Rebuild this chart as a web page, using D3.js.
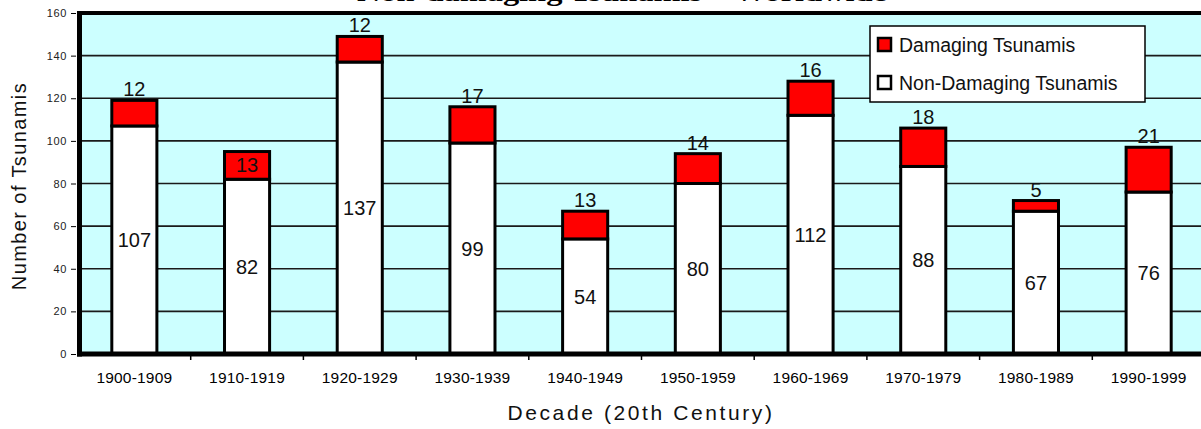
<!DOCTYPE html>
<html>
<head>
<meta charset="utf-8">
<script src="https://cdn.jsdelivr.net/npm/d3@7"></script>
<style>
  html, body { margin: 0; padding: 0; background: #fff; }
  svg { display: block; }
</style>
</head>
<body>
<script>
// ---- data ----
const categories = ["1900-1909","1910-1919","1920-1929","1930-1939","1940-1949",
                    "1950-1959","1960-1969","1970-1979","1980-1989","1990-1999"];
const nonDamaging = [107, 82, 137, 99, 54, 80, 112, 88, 67, 76];
const damaging    = [12, 13, 12, 17, 13, 14, 16, 18, 5, 21];
const yTicks = [0, 20, 40, 60, 80, 100, 120, 140, 160];
const seriesNames = ["Damaging Tsunamis", "Non-Damaging Tsunamis"];
const titleText = "Non-damaging Tsunamis \u2013 Worldwide";
const xTitle = "Decade (20th Century)";
const yTitle = "Number of Tsunamis";
// categories whose damaging label sits inside the red segment (as in the reference)
const insideLabel = new Set(["1910-1919"]);

const W = 1201, H = 429;
const svg = d3.select("body").append("svg").attr("width", W).attr("height", H);

const x = d3.scaleBand().domain(categories).range([78, 1205]).paddingInner(0.6).paddingOuter(0.3);
const y = d3.scaleLinear().domain([0, 160]).range([354, 13]);

// title (clipped at top like the reference)
svg.append("text")
  .attr("x", 357).attr("y", 1)
  .attr("textLength", 530).attr("lengthAdjust", "spacingAndGlyphs")
  .style("font-family", "'Liberation Serif', 'Times New Roman', serif")
  .style("font-weight", "bold").style("font-size", "26px")
  .text(titleText);

// plot background
svg.append("rect")
  .attr("x", x.range()[0]).attr("y", y(160))
  .attr("width", x.range()[1] - x.range()[0]).attr("height", y(0) - y(160))
  .attr("fill", "#ccffff");

// gridlines
svg.append("g").selectAll("line").data(yTicks.filter(d => d > 0 && d < 160)).join("line")
  .attr("x1", x.range()[0]).attr("x2", x.range()[1])
  .attr("y1", d => y(d)).attr("y2", d => y(d))
  .attr("stroke", "#1a1a1a").attr("stroke-width", 1.6);

// y axis
const yAxis = d3.axisLeft(y).tickValues(yTicks).tickSize(5).tickPadding(4);
const gy = svg.append("g").attr("transform", "translate(76,0)").call(yAxis);
gy.select(".domain").remove();
gy.selectAll(".tick line").attr("stroke", "#000").attr("stroke-width", 1);
gy.selectAll(".tick text")
  .style("font-family", "'Liberation Sans', Arial, sans-serif")
  .style("font-size", "11px").style("letter-spacing", "0.6px").attr("fill", "#222");

// x axis
const xAxis = d3.axisBottom(x).tickSize(0).tickPadding(18);
const gx = svg.append("g").attr("transform", `translate(0,${y(0)})`).call(xAxis);
gx.select(".domain").remove();
gx.selectAll(".tick text")
  .style("font-family", "'Liberation Sans', Arial, sans-serif")
  .style("font-size", "15.5px").style("letter-spacing", "0.2px").attr("fill", "#000");
// category boundary ticks
svg.append("g").selectAll("line").data(categories.slice(1)).join("line")
  .attr("x1", d => x(d) - x.step() * x.paddingInner() / 2)
  .attr("x2", d => x(d) - x.step() * x.paddingInner() / 2)
  .attr("y1", y(0)).attr("y2", y(0) + 6)
  .attr("stroke", "#000").attr("stroke-width", 1.5);

// bars
const bars = svg.append("g").selectAll("g").data(categories).join("g");
bars.append("rect")
  .attr("x", d => x(d)).attr("width", x.bandwidth())
  .attr("y", (d, i) => y(nonDamaging[i]))
  .attr("height", (d, i) => y(0) - y(nonDamaging[i]))
  .attr("fill", "#fff").attr("stroke", "#000").attr("stroke-width", 3);
bars.append("rect")
  .attr("x", d => x(d)).attr("width", x.bandwidth())
  .attr("y", (d, i) => y(nonDamaging[i] + damaging[i]))
  .attr("height", (d, i) => y(nonDamaging[i]) - y(nonDamaging[i] + damaging[i]))
  .attr("fill", "#ff0000").attr("stroke", "#000").attr("stroke-width", 3);

// labels
const lblFont = "'Liberation Sans', Arial, sans-serif";
bars.append("text")
  .attr("x", d => x(d) + x.bandwidth() / 2)
  .attr("y", (d, i) => y((nonDamaging[i]) / 2))
  .attr("dy", "0.36em")
  .attr("text-anchor", "middle")
  .style("font-family", lblFont).style("font-size", "20px").attr("fill", "#111")
  .text((d, i) => nonDamaging[i]);
bars.append("text")
  .attr("x", d => x(d) + x.bandwidth() / 2)
  .attr("y", (d, i) => insideLabel.has(d) ? y(nonDamaging[i] + damaging[i]) + 20 : y(nonDamaging[i] + damaging[i]) - 4)
  .attr("text-anchor", "middle")
  .style("font-family", lblFont).style("font-size", "20px").attr("fill", "#111")
  .text((d, i) => damaging[i]);

// plot frame (top, left, bottom)
svg.append("line").attr("x1", 77).attr("x2", 1205).attr("y1", y(160)).attr("y2", y(160))
  .attr("stroke", "#000").attr("stroke-width", 4);
svg.append("line").attr("x1", 79.5).attr("x2", 79.5).attr("y1", y(160) - 2).attr("y2", y(0) + 2.5)
  .attr("stroke", "#000").attr("stroke-width", 5);
svg.append("line").attr("x1", 77).attr("x2", 1205).attr("y1", y(0)).attr("y2", y(0))
  .attr("stroke", "#000").attr("stroke-width", 5);

// axis titles
svg.append("text")
  .attr("x", 641).attr("y", 420).attr("text-anchor", "middle")
  .style("font-family", lblFont).style("font-size", "21px").style("letter-spacing", "2.6px")
  .attr("fill", "#111").text(xTitle);
svg.append("text")
  .attr("transform", "translate(26,186) rotate(-90)").attr("text-anchor", "middle")
  .style("font-family", lblFont).style("font-size", "20px").style("letter-spacing", "1.4px")
  .attr("fill", "#111").text(yTitle);

// legend
const lg = svg.append("g").attr("transform", "translate(870,26)");
lg.append("rect").attr("width", 275).attr("height", 76)
  .attr("fill", "#fff").attr("stroke", "#000").attr("stroke-width", 1.5);
const legendFill = ["#ff0000", "#ffffff"];
seriesNames.forEach((name, i) => {
  const row = lg.append("g").attr("transform", `translate(0,${12 + i * 38})`);
  row.append("rect").attr("x", 8).attr("y", 0).attr("width", 13).attr("height", 13)
    .attr("fill", legendFill[i]).attr("stroke", "#000").attr("stroke-width", 2.5);
  row.append("text").attr("x", 29).attr("y", 14)
    .style("font-family", lblFont).style("font-size", "19.5px").attr("fill", "#111")
    .text(name);
});
</script>
</body>
</html>
